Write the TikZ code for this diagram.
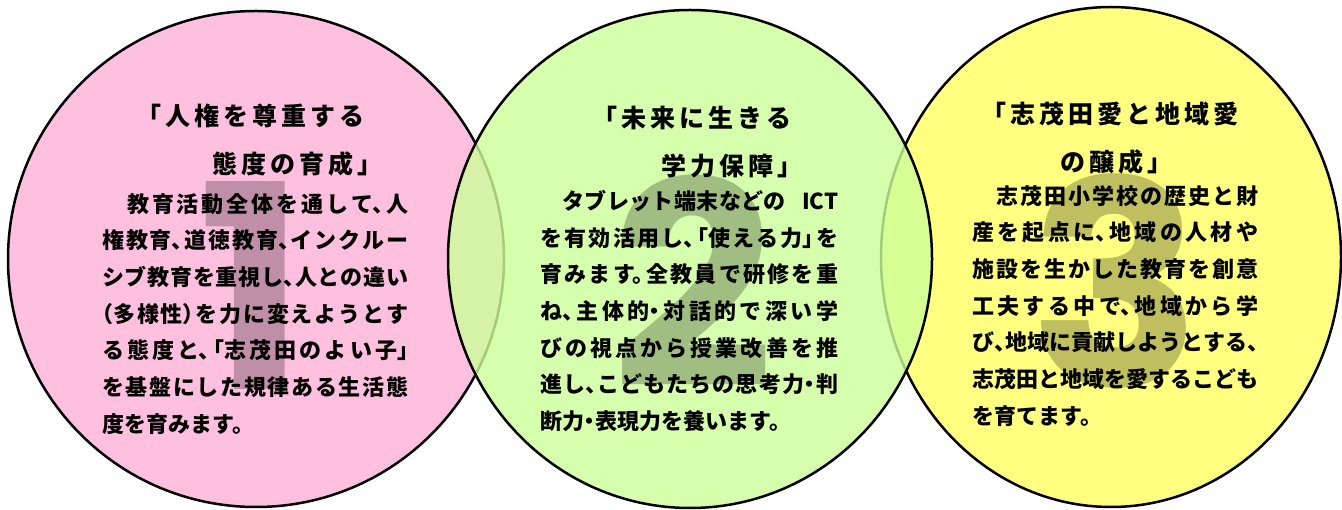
\documentclass[tikz,border=0pt]{standalone}
\usepackage{fontspec}
\newfontfamily\jpfont{Noto Sans CJK JP}[RawFeature=+halt]
\newfontfamily\numfont{Poppins}
\XeTeXlinebreaklocale "ja"
\XeTeXlinebreakskip=0pt plus 4pt minus 1.5pt
\definecolor{pinkfill}{RGB}{255,191,223}
\definecolor{limefill}{RGB}{204,255,153}
\definecolor{lemonfill}{RGB}{255,255,128}
\tikzset{
	ring/.style = {draw=black, line width=2.5pt},
	heading/.style = {anchor=north west, align=left, inner sep=0pt, font=\jpfont\bfseries\fontsize{25}{48}\selectfont\addfontfeature{LetterSpace=16}},
	bodytext/.style = {anchor=north west, align=justify, inner sep=0pt, font=\jpfont\bfseries\fontsize{22}{36.7}\selectfont},
	bignum/.style = {anchor=base, inner sep=0pt, font=\numfont\bfseries\fontsize{285}{285}\selectfont, text opacity=0.25}
}

\begin{document}
\begin{tikzpicture}[x=1pt, y=-1pt]
	\useasboundingbox (0,0) rectangle (1342,510);
	\draw [ring, fill=pinkfill] (256,259) ellipse [x radius=248pt, y radius=248pt];
	\draw [ring, fill=lemonfill] (1111,257) ellipse [x radius=230pt, y radius=250pt];
	\draw [ring, fill=limefill, fill opacity=0.8] (690,259) ellipse [x radius=242pt, y radius=249pt];

	\node [bignum] (num1) at (252,390) {1};
	\node [bignum] (num2) at (693,388) {2};
	\node [bignum] (num3) at (1116,387) {3};

	\node [heading] (title1) at (149,103.5) {「人権を尊重する\\\hspace*{63pt}態度の育成」};
	\node [heading] (title2) at (605,105.5) {「未来に生きる\\\hspace*{56pt}学力保障」};
	\node [heading] (title3) at (994,101.5) {「志茂田愛と地域愛\\\hspace*{66pt}の醸成」};

	\node [bodytext, text width=306pt] (body1) at (102,193) {%
		　教育活動全体を通して、人\linebreak
		権教育、道徳教育、インクルー\linebreak
		シブ教育を重視し、人との違い\linebreak
		（多様性）を力に変えようとす\linebreak
		る態度と、「志茂田のよい子」\linebreak
		を基盤にした規律ある生活態\linebreak
		度を育みます。};
	\node [bodytext, text width=298pt] (body2) at (540,190) {%
		　タブレット端末などの \enspace ICT\linebreak
		を有効活用し、「使える力」を\linebreak
		育みます。全教員で研修を重\linebreak
		ね、主体的・対話的で深い学\linebreak
		びの視点から授業改善を推\linebreak
		進し、こどもたちの思考力・判\linebreak
		断力・表現力を養います。};
	\node [bodytext, text width=286pt] (body3) at (972,185) {%
		　志茂田小学校の歴史と財\linebreak
		産を起点に、地域の人材や\linebreak
		施設を生かした教育を創意\linebreak
		工夫する中で、地域から学\linebreak
		び、地域に貢献しようとする、\linebreak
		志茂田と地域を愛するこども\linebreak
		を育てます。};
\end{tikzpicture}
\end{document}
